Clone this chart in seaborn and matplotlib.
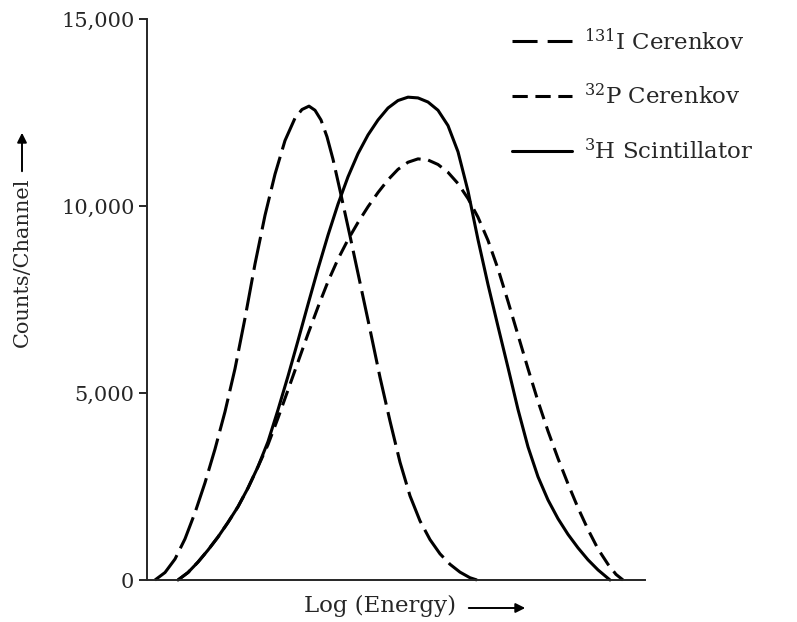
import numpy as np
import pandas as pd
import matplotlib
matplotlib.use("Agg")
import matplotlib.pyplot as plt
import seaborn as sns
from matplotlib.lines import Line2D
from matplotlib.patches import FancyArrowPatch

# Datos (canal relativo vs cuentas/canal)
iodo_x = [8, 18, 28, 38, 48, 58, 68, 78, 88, 98, 108, 118, 128, 138, 148, 155, 162,
          168, 174, 180, 186, 193, 203, 213, 223, 233, 243, 253, 263, 273, 283, 293,
          303, 313, 323, 330]
iodo_y = [0, 200, 560, 1100, 1800, 2600, 3500, 4500, 5650, 7000, 8450, 9750, 10850,
          11750, 12350, 12580, 12670, 12560, 12300, 11850, 11250, 10420, 9200, 7950,
          6700, 5420, 4250, 3150, 2250, 1580, 1080, 700, 420, 210, 60, 0]

fosforo_x = [31, 41, 51, 61, 71, 81, 91, 101, 111, 121, 131, 141, 151, 161, 171, 181,
             191, 201, 211, 221, 231, 241, 251, 261, 271, 281, 291, 301, 311, 321, 331,
             341, 351, 361, 371, 381, 391, 401, 411, 421, 431, 441, 451, 461, 469, 476]
fosforo_y = [0, 200, 480, 800, 1150, 1540, 1960, 2460, 3030, 3620, 4330, 5080, 5830,
             6580, 7300, 7980, 8580, 9100, 9560, 9980, 10360, 10700, 10980, 11170, 11260,
             11230, 11110, 10900, 10600, 10200, 9700, 9080, 8320, 7450, 6550, 5650, 4780,
             3980, 3250, 2570, 1930, 1350, 830, 420, 150, 0]

tritio_x = [31, 41, 51, 61, 71, 81, 91, 101, 111, 121, 131, 141, 151, 161, 171, 181,
            191, 201, 211, 221, 231, 241, 251, 261, 271, 281, 291, 301, 311, 321, 331,
            341, 351, 361, 371, 381, 391, 401, 411, 421, 431, 441, 451, 463]
tritio_y = [0, 200, 480, 800, 1150, 1540, 1960, 2460, 3030, 3700, 4550, 5450, 6400,
            7370, 8320, 9220, 10050, 10780, 11400, 11900, 12300, 12620, 12820, 12910,
            12890, 12780, 12560, 12150, 11450, 10400, 9100, 7900, 6780, 5680, 4560, 3560,
            2760, 2140, 1640, 1220, 860, 540, 270, 0]

etiquetas = [r"$^{131}$I Cerenkov", r"$^{32}$P Cerenkov", r"$^{3}$H Scintillator"]
yticks = [0, 5000, 10000, 15000]
ytick_labels = ["0", "5,000", "10,000", "15,000"]

sns.set_style("ticks")
plt.rcParams["font.family"] = ["DejaVu Serif", "DejaVu Sans"]
plt.rcParams["mathtext.fontset"] = "dejavuserif"

fig = plt.figure(figsize=(7.97, 6.22), dpi=100)
ax = fig.add_axes([147 / 797, 1 - 580 / 622, 498 / 797, 561 / 622])

lw = 2.2
estilos = [(0, (11, 2.5)), (0, (5, 2.5)), "-"]
estilos_leyenda = [(0, (8.2, 3.3)), (0, (5, 2.5)), "-"]
series = [(iodo_x, iodo_y), (fosforo_x, fosforo_y), (tritio_x, tritio_y)]

for (xs, ys), ls in zip(series, estilos):
    df = pd.DataFrame({"x": xs, "y": ys})
    sns.lineplot(data=df, x="x", y="y", ax=ax, color="black", linewidth=lw,
                 linestyle=ls, estimator=None, clip_on=False)

ax.set_xlim(0, 498)
ax.set_ylim(0, 15000)
ax.set_xticks([])
ax.set_yticks(yticks)
ax.set_yticklabels(ytick_labels, fontsize=15)
ax.set_xlabel("")
ax.set_ylabel("")
sns.despine(ax=ax)
for s in ["left", "bottom"]:
    ax.spines[s].set_linewidth(1.4)
ax.tick_params(axis="y", direction="out", length=6, width=1.4, pad=3)

# Leyenda
handles = [Line2D([], [], color="black", linewidth=lw, linestyle=ls)
           for ls in estilos_leyenda]
fig.legend(handles, etiquetas, loc="upper left",
           bbox_to_anchor=(512 / 797, 1 - 28 / 622), frameon=False,
           fontsize=16.5, borderpad=0, borderaxespad=0, handlelength=2.6,
           handletextpad=0.55, labelspacing=1.3)

# Etiquetas de ejes con flechas
fig.text(22 / 797, 1 - 262 / 622, "Counts/Channel", rotation=90,
         ha="center", va="center", fontsize=15)
fig.text(380 / 797, 1 - 606 / 622, "Log (Energy)", ha="center", va="center",
         fontsize=16.5)
fig.patches.append(FancyArrowPatch(
    (22 / 797, 1 - 174 / 622), (22 / 797, 1 - 130 / 622),
    transform=fig.transFigure, arrowstyle="-|>", mutation_scale=14,
    color="black", linewidth=1.4))
fig.patches.append(FancyArrowPatch(
    (466 / 797, 1 - 608 / 622), (528 / 797, 1 - 608 / 622),
    transform=fig.transFigure, arrowstyle="-|>", mutation_scale=14,
    color="black", linewidth=1.4))

fig.savefig("out.png", dpi=100)
